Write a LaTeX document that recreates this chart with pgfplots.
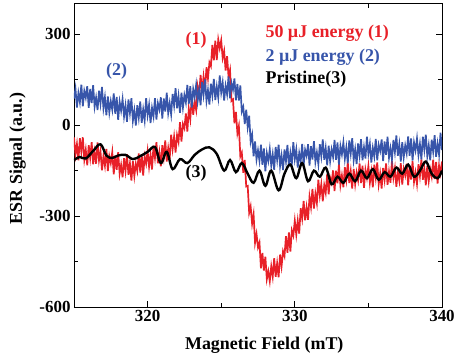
\documentclass[border=0pt]{standalone}
\usepackage{fontspec}
\setmainfont{Liberation Serif}
\usepackage{pgfplots}
\pgfplotsset{compat=1.18}
\definecolor{esrred}{RGB}{232,32,40}
\definecolor{esrblue}{RGB}{55,85,170}
\begin{document}
\begin{tikzpicture}
\begin{axis}[
  name=ax,
  scale only axis, width=368bp, height=303bp,
  xmin=315, xmax=340, ymin=-600, ymax=400,
  xtick={320,330,340}, ytick={-600,-300,0,300},
  minor x tick num=1, minor y tick num=1,
  tick align=inside, major tick length=6bp, minor tick length=4bp,
  axis line style={line width=1pt}, every tick/.style={line width=0.9pt, black},
  /pgf/number format/assume math mode=true,
  /pgf/number format/1000 sep={},
  tick label style={font=\bfseries\fontsize{17}{19}\selectfont},
  xlabel={Magnetic Field (mT)},
  ylabel={ESR Signal (a.u.)},
  every axis x label/.style={at={(rel axis cs:0.517,-0.125)}, anchor=center, font=\bfseries\fontsize{18}{20}\selectfont},
  every axis y label/.style={at={(rel axis cs:-0.153,0.49)}, anchor=center, rotate=90, font=\bfseries\fontsize{18}{20}\selectfont},
  clip=true,
]
% (1) 50 uJ energy
\addplot[esrred, line width=1.7pt] coordinates {
(315.0,-40) (315.1,-97) (315.2,-62) (315.3,-116) (315.4,-43) (315.5,-88) (315.6,-40) (315.7,-114) (315.8,-81) (315.9,-132)
(316.0,-66) (316.1,-108) (316.2,-56) (316.3,-129) (316.4,-88) (316.5,-127) (316.6,-57) (316.7,-116) (316.8,-86) (316.9,-149)
(317.0,-103) (317.1,-134) (317.2,-78) (317.3,-151) (317.4,-102) (317.5,-125) (317.6,-89) (317.7,-162) (317.8,-100) (317.9,-147)
(318.0,-89) (318.1,-160) (318.2,-131) (318.3,-172) (318.4,-109) (318.5,-151) (318.6,-96) (318.7,-164) (318.8,-126) (318.9,-183)
(319.0,-119) (319.1,-168) (319.2,-127) (319.3,-151) (319.4,-93) (319.5,-156) (319.6,-96) (319.7,-166) (319.8,-103) (319.9,-127)
(320.0,-85) (320.1,-137) (320.2,-97) (320.3,-146) (320.4,-68) (320.5,-108) (320.6,-56) (320.7,-126) (320.8,-89) (320.9,-136)
(321.0,-66) (321.1,-105) (321.2,-50) (321.3,-120) (321.4,-76) (321.5,-112) (321.6,-31) (321.7,-79) (321.8,-38) (321.9,-90)
(322.0,-33) (322.1,-55) (322.2,10) (322.3,-54) (322.4,4) (322.5,-10) (322.6,39) (322.7,-21) (322.8,54) (322.9,20)
(323.0,91) (323.1,34) (323.2,77) (323.3,50) (323.4,127) (323.5,99) (323.6,166) (323.7,110) (323.8,160) (323.9,115)
(324.0,191) (324.1,154) (324.2,207) (324.3,195) (324.4,265) (324.5,214) (324.6,279) (324.7,215) (324.8,283) (324.9,254)
(325.0,280) (325.1,222) (325.2,245) (325.3,180) (325.4,228) (325.5,159) (325.6,182) (325.7,80) (325.8,85) (325.9,6)
(326.0,44) (326.1,-26) (326.2,-2) (326.3,-103) (326.4,-90) (326.5,-157) (326.6,-115) (326.7,-202) (326.8,-200) (326.9,-289)
(327.0,-268) (327.1,-325) (327.2,-294) (327.3,-388) (327.4,-359) (327.5,-403) (327.6,-387) (327.7,-472) (327.8,-422) (327.9,-480)
(328.0,-434) (328.1,-508) (328.2,-482) (328.3,-515) (328.4,-466) (328.5,-500) (328.6,-439) (328.7,-500) (328.8,-456) (328.9,-502)
(329.0,-427) (329.1,-466) (329.2,-416) (329.3,-432) (329.4,-366) (329.5,-421) (329.6,-354) (329.7,-417) (329.8,-347) (329.9,-364)
(330.0,-315) (330.1,-361) (330.2,-315) (330.3,-358) (330.4,-274) (330.5,-308) (330.6,-250) (330.7,-314) (330.8,-271) (330.9,-312)
(331.0,-236) (331.1,-270) (331.2,-210) (331.3,-275) (331.4,-226) (331.5,-257) (331.6,-180) (331.7,-232) (331.8,-195) (331.9,-251)
(332.0,-198) (332.1,-223) (332.2,-161) (332.3,-228) (332.4,-173) (332.5,-190) (332.6,-149) (332.7,-217) (332.8,-150) (332.9,-192)
(333.0,-129) (333.1,-198) (333.2,-166) (333.3,-205) (333.4,-139) (333.5,-179) (333.6,-123) (333.7,-191) (333.8,-152) (333.9,-209)
(334.0,-144) (334.1,-195) (334.2,-156) (334.3,-182) (334.4,-126) (334.5,-191) (334.6,-134) (334.7,-207) (334.8,-147) (334.9,-174)
(335.0,-135) (335.1,-190) (335.2,-153) (335.3,-205) (335.4,-130) (335.5,-173) (335.6,-123) (335.7,-195) (335.8,-160) (335.9,-209)
(336.0,-141) (336.1,-180) (336.2,-126) (336.3,-197) (336.4,-153) (336.5,-190) (336.6,-118) (336.7,-174) (336.8,-142) (336.9,-203)
(337.0,-155) (337.1,-184) (337.2,-125) (337.3,-196) (337.4,-145) (337.5,-166) (337.6,-127) (337.7,-198) (337.8,-134) (337.9,-179)
(338.0,-119) (338.1,-187) (338.2,-156) (338.3,-194) (338.4,-129) (338.5,-168) (338.6,-113) (338.7,-180) (338.8,-142) (338.9,-198)
(339.0,-134) (339.1,-184) (339.2,-145) (339.3,-170) (339.4,-114) (339.5,-178) (339.6,-121) (339.7,-193) (339.8,-133) (339.9,-159)
(340.0,-120)
};
% (2) 2 uJ energy
\addplot[esrblue, line width=1.7pt] coordinates {
(315.0,88) (315.1,120) (315.2,58) (315.3,106) (315.4,76) (315.5,134) (315.6,62) (315.7,113) (315.8,91) (315.9,129)
(316.0,57) (316.1,120) (316.2,73) (316.3,132) (316.4,61) (316.5,91) (316.6,50) (316.7,114) (316.8,72) (316.9,126)
(317.0,56) (317.1,92) (317.2,33) (317.3,95) (317.4,42) (317.5,79) (317.6,51) (317.7,105) (317.8,38) (317.9,93)
(318.0,18) (318.1,77) (318.2,48) (318.3,86) (318.4,29) (318.5,65) (318.6,11) (318.7,85) (318.8,40) (318.9,89)
(319.0,15) (319.1,49) (319.2,-1) (319.3,66) (319.4,25) (319.5,78) (319.6,8) (319.7,52) (319.8,16) (319.9,89)
(320.0,33) (320.1,67) (320.2,7) (320.3,57) (320.4,29) (320.5,89) (320.6,19) (320.7,72) (320.8,52) (320.9,92)
(321.0,22) (321.1,88) (321.2,45) (321.3,107) (321.4,40) (321.5,73) (321.6,36) (321.7,103) (321.8,65) (321.9,122)
(322.0,56) (322.1,96) (322.2,41) (322.3,107) (322.4,58) (322.5,99) (322.6,75) (322.7,133) (322.8,70) (322.9,129)
(323.0,58) (323.1,119) (323.2,93) (323.3,133) (323.4,79) (323.5,117) (323.6,66) (323.7,142) (323.8,100) (323.9,151)
(324.0,80) (324.1,116) (324.2,68) (324.3,137) (324.4,98) (324.5,153) (324.6,83) (324.7,127) (324.8,91) (324.9,164)
(325.0,108) (325.1,141) (325.2,81) (325.3,130) (325.4,102) (325.5,161) (325.6,89) (325.7,139) (325.8,117) (325.9,154)
(326.0,82) (326.1,136) (326.2,81) (326.3,131) (326.4,45) (326.5,60) (326.6,4) (326.7,51) (326.8,-6) (326.9,31)
(327.0,-54) (327.1,-31) (327.2,-103) (327.3,-54) (327.4,-113) (327.5,-83) (327.6,-117) (327.7,-64) (327.8,-131) (327.9,-77)
(328.0,-152) (328.1,-92) (328.2,-118) (328.3,-79) (328.4,-133) (328.5,-96) (328.6,-147) (328.7,-72) (328.8,-114) (328.9,-64)
(329.0,-135) (329.1,-100) (329.2,-148) (329.3,-80) (329.4,-119) (329.5,-65) (329.6,-135) (329.7,-92) (329.8,-128) (329.9,-56)
(330.0,-112) (330.1,-80) (330.2,-140) (330.3,-92) (330.4,-120) (330.5,-62) (330.6,-132) (330.7,-81) (330.8,-101) (330.9,-63)
(331.0,-133) (331.1,-69) (331.2,-113) (331.3,-53) (331.4,-121) (331.5,-90) (331.6,-128) (331.7,-63) (331.8,-102) (331.9,-47)
(332.0,-114) (332.1,-76) (332.2,-132) (332.3,-68) (332.4,-119) (332.5,-80) (332.6,-105) (332.7,-49) (332.8,-114) (332.9,-57)
(333.0,-130) (333.1,-69) (333.2,-96) (333.3,-57) (333.4,-111) (333.5,-74) (333.6,-126) (333.7,-50) (333.8,-93) (333.9,-43)
(334.0,-115) (334.1,-80) (334.2,-128) (334.3,-60) (334.4,-100) (334.5,-46) (334.6,-116) (334.7,-73) (334.8,-110) (334.9,-38)
(335.0,-94) (335.1,-62) (335.2,-123) (335.3,-75) (335.4,-103) (335.5,-45) (335.6,-116) (335.7,-65) (335.8,-85) (335.9,-47)
(336.0,-118) (336.1,-54) (336.2,-98) (336.3,-38) (336.4,-107) (336.5,-76) (336.6,-114) (336.7,-49) (336.8,-89) (336.9,-34)
(337.0,-101) (337.1,-63) (337.2,-120) (337.3,-56) (337.4,-106) (337.5,-67) (337.6,-93) (337.7,-37) (337.8,-101) (337.9,-44)
(338.0,-117) (338.1,-57) (338.2,-83) (338.3,-44) (338.4,-99) (338.5,-62) (338.6,-113) (338.7,-38) (338.8,-81) (338.9,-31)
(339.0,-102) (339.1,-67) (339.2,-116) (339.3,-48) (339.4,-87) (339.5,-33) (339.6,-104) (339.7,-61) (339.8,-97) (339.9,-25)
(340.0,-82)
};
% (3) Pristine
\addplot[black, line width=2.4pt, smooth, tension=0.6] coordinates {
(315.0,-115) (315.4,-105) (315.8,-110) (316.3,-85) (316.8,-63) (317.2,-100) (317.6,-108) (318.0,-100)
(318.5,-98) (319.0,-112) (319.5,-102) (320.0,-88) (320.5,-72) (320.9,-125) (321.3,-88)
(321.7,-145) (322.2,-112) (322.7,-125) (323.2,-98) (323.7,-80) (324.2,-73) (324.7,-95) (325.2,-150)
(325.6,-115) (326.0,-155) (326.4,-125) (326.8,-160) (327.2,-190) (327.6,-150) (328.0,-200) (328.4,-150)
(328.9,-215) (329.3,-160) (329.7,-130) (330.1,-175) (330.5,-125) (330.9,-185) (331.3,-150) (331.7,-170)
(332.1,-140) (332.5,-195) (332.9,-170) (333.3,-190) (333.7,-160) (334.1,-185) (334.5,-150) (334.9,-175)
(335.3,-145) (335.7,-180) (336.1,-155) (336.5,-170) (336.9,-140) (337.3,-160) (337.7,-130) (338.1,-170)
(338.5,-150) (338.9,-120) (339.3,-160) (339.7,-175) (340.0,-150)
};
\node[esrred, font=\bfseries\fontsize{18}{20}\selectfont] at (axis cs:323.3,280) {(1)};
\node[esrblue, font=\bfseries\fontsize{18}{20}\selectfont] at (axis cs:317.9,178) {(2)};
\node[black, font=\bfseries\fontsize{18}{20}\selectfont] at (axis cs:323.3,-158) {(3)};
\node[esrred, anchor=west, inner sep=0pt, font=\bfseries\fontsize{18}{20}\selectfont] at (axis cs:328.0,303) {50 µJ energy (1)};
\node[esrblue, anchor=west, inner sep=0pt, font=\bfseries\fontsize{18}{20}\selectfont] at (axis cs:328.0,224) {2 µJ energy (2)};
\node[black, anchor=west, inner sep=0pt, font=\bfseries\fontsize{18}{20}\selectfont] at (axis cs:328.0,152) {Pristine(3)};
\end{axis}
\pgfresetboundingbox
\useasboundingbox ([xshift=-74bp,yshift=-53bp]ax.south west) rectangle ([xshift=15bp,yshift=4bp]ax.north east);
\end{tikzpicture}
\end{document}
